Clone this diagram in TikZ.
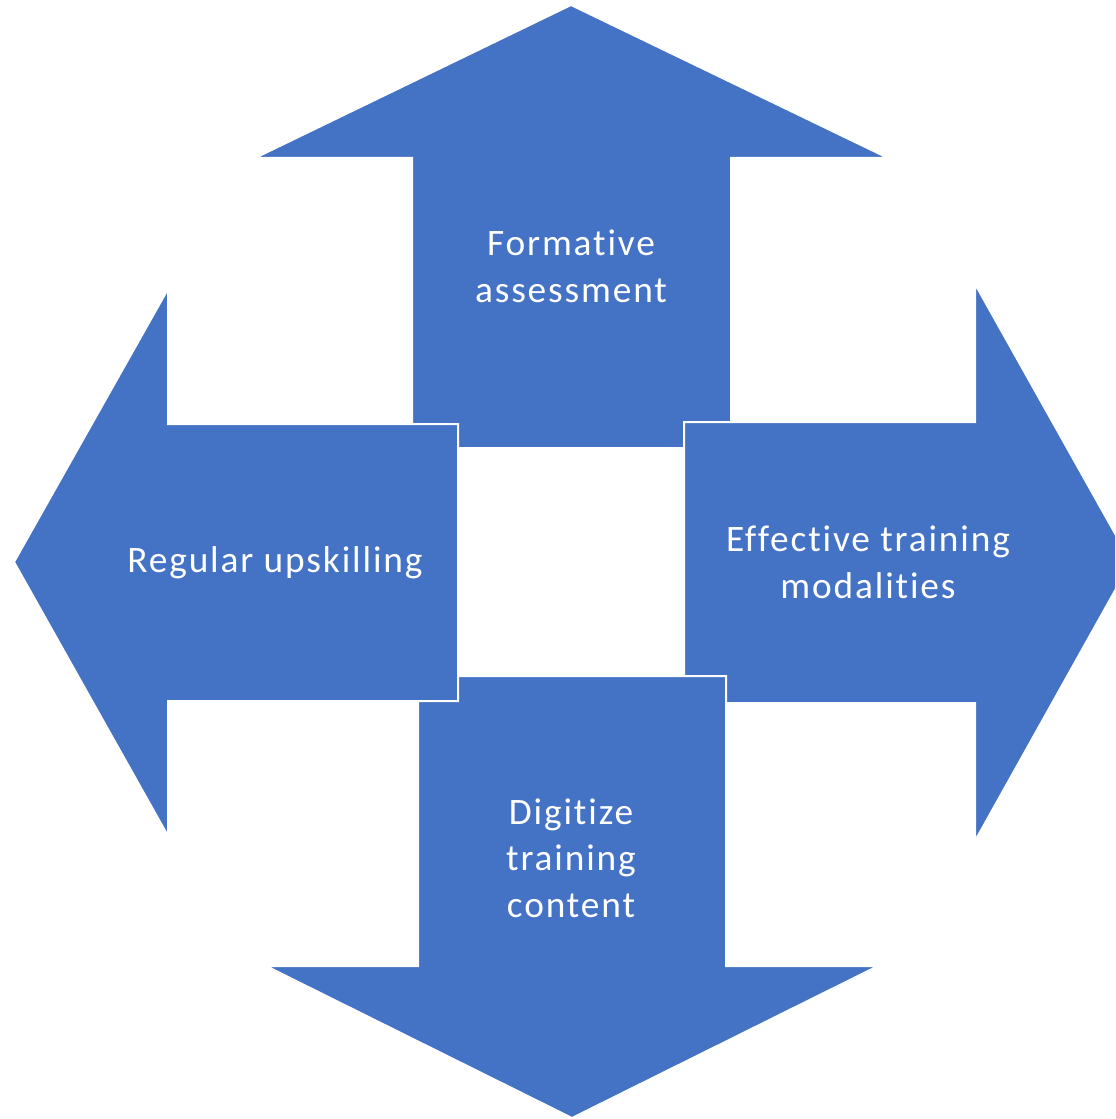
\documentclass[tikz,border=0pt]{standalone}
\usepackage{fontspec}
\setmainfont{Carlito}[LetterSpace=5, Ligatures=NoCommon]
\usetikzlibrary{positioning}
\definecolor{accblue}{HTML}{4472C4}
\tikzset{
  bigarr/.style ={fill=accblue, draw=white, line width=1.5pt, line join=miter},
  lbl/.style    ={text=white, align=center, inner sep=0pt, font=\fontsize{28}{35}\selectfont},
}

\begin{document}
\begin{tikzpicture}[x=0.75pt, y=-0.75pt]
  \useasboundingbox (0,0) rectangle (1115,1119);
  \clip (0,0) rectangle (1115,1119);
  % up
  \draw[bigarr] (412,448) -- (412,158) -- (255,158) -- (571,5) -- (888,158) -- (731,158) -- (731,448) -- cycle;
  % right
  \draw[bigarr] (684,422) -- (975,422) -- (975,284) -- (1131,562) -- (975,841) -- (975,703) -- (684,703) -- cycle;
  % down
  \draw[bigarr] (418,676) -- (726,676) -- (726,966) -- (878,966) -- (572,1118) -- (266,966) -- (418,966) -- cycle;
  % left
  \draw[bigarr] (458,424) -- (168,424) -- (168,289) -- (14,562) -- (168,836) -- (168,701) -- (458,701) -- cycle;
  % labels
  \node[lbl] (assess)  at (571,266) {Formative\\assessment};
  \node[lbl] (modal)   at (868,562) {Effective training\\modalities};
  \node[lbl] (digit)   at (571,858) {Digitize\\training\\content};
  \node[lbl] (upskill) at (275,563) {Regular upskilling};
\end{tikzpicture}
\end{document}
